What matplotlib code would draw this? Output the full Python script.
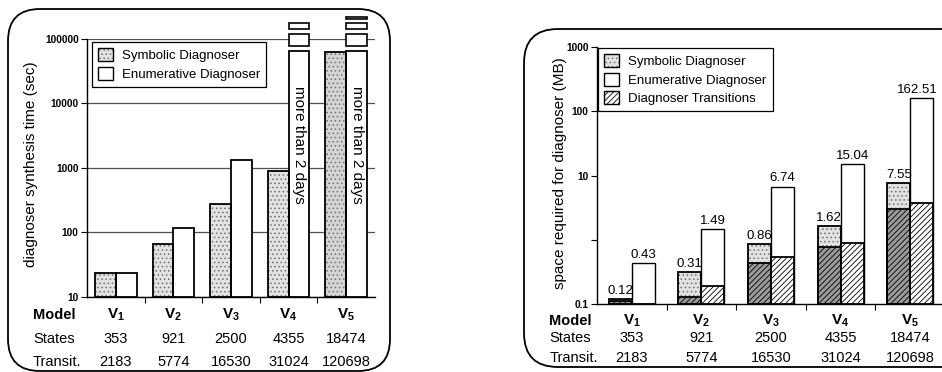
import matplotlib
matplotlib.use('Agg')
import matplotlib.pyplot as plt
import numpy as np
from matplotlib.patches import FancyBboxPatch, Patch, Rectangle
from matplotlib.transforms import IdentityTransform, blended_transform_factory

plt.rcParams['font.family'] = ['Liberation Sans', 'DejaVu Sans']
plt.rcParams['mathtext.fontset'] = 'custom'
plt.rcParams['mathtext.rm'] = 'Liberation Sans'
plt.rcParams['mathtext.bf'] = 'Liberation Sans:bold'
plt.rcParams['hatch.linewidth'] = 0.6

# ---------------- data ----------------
models = ['1', '2', '3', '4', '5']
states = ['353', '921', '2500', '4355', '18474']
transits = ['2183', '5774', '16530', '31024', '120698']

# synthesis time (sec)
sym_time = [23.5, 66, 275, 890, 63000]
enum_time = [23.5, 117, 1320, 172800, 172800]   # V4, V5: more than 2 days
time_cap = 65000                                 # drawn height of off-scale bars
time_ticks = [10, 100, 1000, 10000, 100000]
time_ticklabels = ['10', '100', '1000', '10000', '100000']

# space (MB)
sym_space = [0.12, 0.31, 0.86, 1.62, 7.55]
enum_space = [0.43, 1.49, 6.74, 15.04, 162.51]
sym_trans = [0.11, 0.13, 0.43, 0.76, 2.96]
enum_trans = [0.1, 0.19, 0.53, 0.90, 3.68]
space_labels_sym = ['0.12', '0.31', '0.86', '1.62', '7.55']
space_labels_enum = ['0.43', '1.49', '6.74', '15.04', '162.51']
space_ticks = [0.1, 1, 10, 100, 1000]
space_ticklabels = ['0.1', '', '10', '100', '1000']

W, H = 942, 372
fig = plt.figure(figsize=(W / 100, H / 100), dpi=100)

STIP_FACE, STIP_DOT = '#e2e2e2', '#707070'
HATCH_DARK = '#9a9a9a'


def px_axes(left, top, right, bottom):
    return fig.add_axes([left / W, (H - bottom) / H, (right - left) / W, (bottom - top) / H])


def stipple_bar(ax, x, top, base, w, face=STIP_FACE):
    ax.bar(x, top - base, w, bottom=base, color=face, edgecolor=STIP_DOT,
           hatch='....', linewidth=0, zorder=2)
    ax.bar(x, top - base, w, bottom=base, fill=False, edgecolor='black',
           linewidth=1.3, zorder=4)


def hatch_bar(ax, x, top, base, w, face):
    ax.bar(x, top - base, w, bottom=base, color=face, edgecolor='black',
           hatch='//////', linewidth=1.3, zorder=3)


def plain_bar(ax, x, top, base, w, lw=1.3):
    ax.bar(x, top - base, w, bottom=base, color='white', edgecolor='black',
           linewidth=lw, zorder=2)


def style_axes(ax):
    ax.set_yscale('log')
    ax.spines['top'].set_visible(False)
    ax.spines['right'].set_visible(False)
    for s in ('left', 'bottom'):
        ax.spines[s].set_linewidth(1.0)
    ax.set_xlim(-0.5, 4.5)
    ax.set_xticks(np.arange(4) + 0.5)
    ax.set_xticklabels([])
    ax.tick_params(axis='x', length=4, width=0.8, direction='out')
    ax.tick_params(axis='y', which='major', length=4, width=0.8, direction='out', pad=2,
                   labelsize=7.3)
    ax.tick_params(axis='y', which='minor', length=0)


def table(ax, ys, xlab):
    tr = blended_transform_factory(ax.transData, ax.transAxes)
    ax.text(xlab, ys[0], 'Model', transform=ax.transAxes, ha='left', va='center',
            fontsize=10.5, fontweight='bold')
    ax.text(xlab, ys[1], 'States', transform=ax.transAxes, ha='left', va='center', fontsize=10.5)
    ax.text(xlab, ys[2], 'Transit.', transform=ax.transAxes, ha='left', va='center', fontsize=10.5)
    for i in range(5):
        ax.text(i, ys[0], r'$\mathbf{V}_{\mathbf{%s}}$' % models[i], transform=tr,
                ha='center', va='center', fontsize=11)
        ax.text(i, ys[1], states[i], transform=tr, ha='center', va='center', fontsize=10.5)
        ax.text(i, ys[2], transits[i], transform=tr, ha='center', va='center', fontsize=10.5)


# ---------------- left panel: synthesis time ----------------
axL = px_axes(87, 39, 375, 297)
style_axes(axL)
axL.set_ylim(10, 100000)
axL.set_yticks(time_ticks)
axL.set_yticklabels(time_ticklabels, fontweight='bold')
axL.yaxis.grid(True, color='#505050', linewidth=0.9)
axL.set_axisbelow(True)

x = np.arange(5)
wL = 0.36
for i in range(5):
    stipple_bar(axL, x[i] - wL / 2, sym_time[i], 10, wL,
                face='#d4d4d4' if i == 4 else STIP_FACE)
    h = min(enum_time[i], time_cap)
    plain_bar(axL, x[i] + wL / 2, h, 10, wL)
    if enum_time[i] > time_cap:
        # broken-bar marks above the cap (offsets in decades)
        segs = [(0.08, 0.27), (0.345, 0.44)]
        if i == 4:
            segs.append((0.50, 0.535))
        for a, b in segs:
            y0, y1 = time_cap * 10 ** a, time_cap * 10 ** b
            axL.add_patch(Rectangle((x[i], y0), wL, y1 - y0,
                                    facecolor='white', edgecolor='black', linewidth=1.2,
                                    clip_on=False, zorder=5))
        axL.text(x[i] + wL / 2, 2275, 'more than 2 days', rotation=270, ha='center',
                 va='center', fontsize=11, zorder=6)

axL.text(-0.194, 0.515, 'diagnoser synthesis time (sec)', transform=axL.transAxes,
         rotation=90, ha='center', va='center', fontsize=11)

legL = axL.legend(
    handles=[(Patch(facecolor=STIP_FACE, edgecolor=STIP_DOT, hatch='....', linewidth=0),
              Patch(fill=False, edgecolor='black', linewidth=1.0)),
             Patch(facecolor='white', edgecolor='black', linewidth=1.0)],
    labels=['Symbolic Diagnoser', 'Enumerative Diagnoser'],
    loc='upper left', bbox_to_anchor=(0.017, 0.988), borderaxespad=0,
    fancybox=False, edgecolor='black', framealpha=1, fontsize=9.5,
    handlelength=1.15, handleheight=1.15, labelspacing=0.35, borderpad=0.45,
    handletextpad=0.7)
legL.get_frame().set_linewidth(0.9)
legL.set_zorder(10)

table(axL, [-0.07, -0.163, -0.252], -0.1875)

# ---------------- right panel: space ----------------
axR = px_axes(597, 47, 945, 304)
style_axes(axR)
axR.set_ylim(0.1, 1000)
axR.set_yticks(space_ticks)
axR.set_yticklabels(space_ticklabels, fontweight='bold')

wR = 0.33
for i in range(5):
    xs, xe = x[i] - wR / 2, x[i] + wR / 2
    stipple_bar(axR, xs, sym_space[i], 0.1, wR)
    hatch_bar(axR, xs, sym_trans[i], 0.1, wR, HATCH_DARK)
    plain_bar(axR, xe, enum_space[i], 0.1, wR, lw=1.0)
    hatch_bar(axR, xe, enum_trans[i], 0.1, wR, 'white')
    axR.annotate(space_labels_sym[i], (xs, sym_space[i]), xytext=(0, 1.5),
                 textcoords='offset points', ha='center', va='bottom', fontsize=9.5,
                 annotation_clip=False)
    axR.annotate(space_labels_enum[i], (xe, enum_space[i]),
                 xytext=(-3 if i == 4 else 0, 1.5),
                 textcoords='offset points', ha='center', va='bottom', fontsize=9.5,
                 annotation_clip=False)

axR.text(-0.107, 0.508, 'space required for diagnoser (MB)', transform=axR.transAxes,
         rotation=90, ha='center', va='center', fontsize=11)

legR = axR.legend(
    handles=[(Patch(facecolor=STIP_FACE, edgecolor=STIP_DOT, hatch='....', linewidth=0),
              Patch(fill=False, edgecolor='black', linewidth=1.0)),
             Patch(facecolor='white', edgecolor='black', linewidth=1.0),
             Patch(facecolor='white', edgecolor='black', hatch='//////', linewidth=1.0)],
    labels=['Symbolic Diagnoser', 'Enumerative Diagnoser', 'Diagnoser Transitions'],
    loc='upper left', bbox_to_anchor=(0.003, 0.996), borderaxespad=0,
    fancybox=False, edgecolor='black', framealpha=1, fontsize=9.5,
    handlelength=1.15, handleheight=1.15, labelspacing=0.35, borderpad=0.45,
    handletextpad=0.7)
legR.get_frame().set_linewidth(0.9)
legR.set_zorder(10)

table(axR, [-0.066, -0.132, -0.21], -0.137)

# ---------------- rounded frames ----------------
for (x0, top, x1, bot, r) in [(8, 9, 390, 371, 32), (524, 29, 975, 367, 34)]:
    fig.patches.append(FancyBboxPatch((x0, H - bot), x1 - x0, bot - top,
                                      boxstyle='round,pad=0,rounding_size=%d' % r,
                                      transform=IdentityTransform(), fill=False,
                                      edgecolor='black', linewidth=1.3, zorder=0))

fig.savefig('out.png', dpi=100)
